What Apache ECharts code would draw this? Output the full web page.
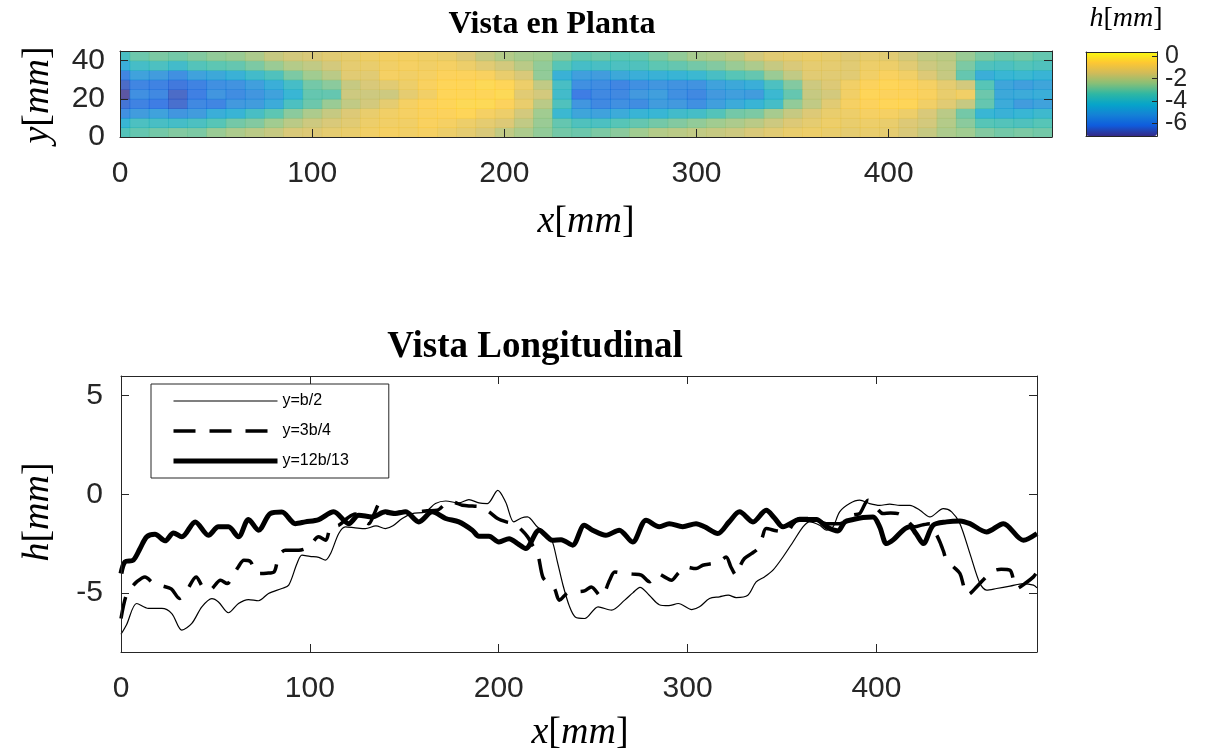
<!DOCTYPE html>
<html>
<head>
<meta charset="utf-8">
<title>Vista en Planta / Vista Longitudinal</title>
<script src="https://cdn.jsdelivr.net/npm/echarts@6/dist/echarts.min.js"></script>
<style>
  html, body { margin: 0; padding: 0; background: #fff; }
  #chart { width: 1205px; height: 751px; }
</style>
</head>
<body>
<div id="chart"></div>
<script>
// ---- plan view (top): h[mm] on a 10 mm x 5 mm grid ----
const planX = [0, 10, 20, 30, 40, 50, 60, 70, 80, 90, 100, 110, 120, 130, 140, 150, 160, 170, 180, 190,
  200, 210, 220, 230, 240, 250, 260, 270, 280, 290, 300, 310, 320, 330, 340, 350, 360, 370, 380, 390,
  400, 410, 420, 430, 440, 450, 460, 470, 480]
const planY = [2.5, 7.5, 12.5, 17.5, 22.5, 27.5, 32.5, 37.5, 42.5]

const planH02 = [-3.5,-3.2,-3.0,-2.8,-2.9,-2.5,-2.2,-2.0,-1.8,-1.5,-1.4,-1.2,-1.1,-0.9,-0.8,-0.9,-0.8,-1.0,-1.2,-1.5,-1.9,-2.2,-2.6,-3.0,-3.1,-2.9,-2.7,-2.4,-2.1,-2.0,-1.9,-1.8,-1.7,-1.5,-1.3,-1.1,-1.0,-1.1,-1.2,-1.1,-1.2,-1.5,-1.8,-2.2,-2.4,-2.8,-3.0,-2.9,-3.0]
const planH07 = [-4.3,-3.7,-3.8,-3.9,-3.7,-3.4,-3.0,-2.8,-2.4,-2.0,-1.7,-1.5,-1.3,-1.0,-0.9,-0.9,-0.7,-0.8,-1.0,-1.2,-1.4,-1.9,-2.5,-3.2,-3.6,-3.7,-3.4,-3.2,-3.0,-2.8,-2.6,-2.4,-2.2,-2.0,-1.7,-1.4,-1.2,-1.0,-1.1,-1.0,-1.1,-1.4,-1.6,-2.1,-2.7,-3.4,-3.5,-3.6,-3.4]
const planH12 = [-5.6,-5.2,-5.0,-5.4,-5.2,-4.6,-4.4,-3.8,-3.3,-2.7,-2.2,-1.8,-1.4,-1.1,-0.9,-0.8,-0.7,-0.6,-0.5,-0.8,-1.0,-1.6,-2.4,-4.2,-4.9,-5.0,-4.7,-4.4,-4.3,-4.0,-3.9,-3.5,-3.0,-2.9,-2.3,-1.8,-1.4,-1.1,-1.0,-0.8,-0.8,-1.0,-1.5,-2.0,-3.0,-4.3,-4.5,-4.3,-4.1]
const planH17 = [-6.4,-6.0,-6.2,-6.5,-5.8,-5.9,-5.3,-5.2,-4.7,-3.7,-3.1,-2.5,-1.9,-1.6,-1.2,-0.8,-0.6,-0.5,-0.4,-0.4,-0.6,-1.1,-2.0,-3.6,-5.4,-5.8,-5.6,-5.7,-5.2,-5.3,-5.6,-5.1,-4.7,-4.4,-3.9,-2.6,-1.9,-1.3,-0.8,-0.6,-0.5,-0.5,-0.9,-1.3,-1.8,-3.2,-4.7,-5.2,-5.0]
const planH22 = [-7.1,-5.6,-5.8,-6.6,-6.1,-5.4,-5.7,-5.4,-5.0,-4.3,-3.2,-3.2,-1.7,-1.7,-1.7,-1.2,-0.9,-0.5,-0.5,-0.5,-0.4,-1.3,-1.6,-4.0,-6.2,-5.8,-5.8,-5.3,-5.1,-5.6,-5.8,-5.3,-5.1,-5.2,-4.2,-3.2,-1.8,-1.6,-0.9,-0.5,-0.6,-0.6,-0.7,-1.1,-0.9,-3.1,-4.8,-4.7,-4.6]
const planH27 = [-6.6,-5.9,-6.0,-6.3,-6.0,-5.6,-5.5,-5.1,-4.6,-3.9,-3.0,-2.7,-1.8,-1.5,-1.3,-1.0,-0.7,-0.5,-0.5,-0.4,-0.5,-1.0,-1.9,-3.8,-5.6,-5.7,-5.9,-5.6,-5.4,-5.5,-5.5,-5.0,-4.8,-4.6,-3.7,-2.8,-1.7,-1.4,-0.9,-0.6,-0.5,-0.6,-0.8,-1.2,-1.6,-3.4,-4.9,-5.1,-4.9]
const planH32 = [-5.9,-5.0,-5.2,-5.6,-5.0,-4.8,-4.5,-4.0,-3.6,-2.9,-2.4,-2.0,-1.3,-1.3,-0.8,-0.9,-0.8,-0.6,-0.6,-0.7,-1.1,-1.5,-2.6,-4.5,-5.1,-5.2,-4.8,-4.6,-4.5,-4.4,-4.2,-3.8,-3.4,-3.2,-2.5,-1.9,-1.3,-1.3,-1.3,-0.9,-0.7,-0.9,-1.4,-1.8,-3.2,-4.6,-4.3,-4.2,-4.4]
const planH37 = [-4.6,-3.9,-3.7,-4.0,-3.5,-3.3,-3.2,-2.9,-2.5,-2.1,-1.9,-1.6,-1.2,-1.1,-0.9,-0.8,-0.9,-0.8,-1.0,-1.3,-1.6,-2.0,-2.6,-3.4,-3.9,-3.8,-3.7,-3.6,-3.3,-3.2,-3.0,-2.8,-2.5,-2.2,-1.8,-1.5,-1.2,-1.2,-1.3,-1.0,-1.0,-1.3,-1.7,-1.9,-2.9,-3.6,-3.7,-3.5,-3.6]
const planH42 = [-3.8,-3.1,-2.9,-3.0,-2.8,-2.6,-2.5,-2.2,-1.8,-1.6,-1.5,-1.3,-1.2,-1.0,-0.9,-0.9,-1.0,-1.1,-1.4,-1.8,-2.1,-2.3,-2.4,-2.8,-3.2,-3.1,-3.3,-3.2,-2.9,-2.6,-2.3,-2.2,-2.0,-1.6,-1.3,-1.2,-1.1,-1.2,-1.4,-1.2,-1.3,-1.6,-1.9,-2.0,-2.5,-2.9,-3.1,-3.0,-3.2]
const planRows = [planH02, planH07, planH12, planH17, planH22, planH27, planH32, planH37, planH42]

// ---- longitudinal profiles (bottom) ----
const b2X = [0,3,8.3,14.5,21.6,26.9,32.2,37.5,42.8,48.1,51.6,56.9,62.2,67.5,72.8,78.1,85.2,88.8,93.2,95.8,100,104.7,108.2,111,115.3,118.8,124,129.4,135,140,144,148.9,154.2,161.2,166.5,171.9,178.9,184.2,189.5,194,199.5,203.7,208,212,215.2,220.5,224,228,231,234,237.5,240.5,245.5,252.6,259.7,266.7,271,274.8,279.7,285,290,295.1,302.2,306.3,311.6,316.9,321.5,325.7,331.9,336.3,340.7,345.2,350.5,355.8,361.1,364.6,369.9,373.5,377,380.5,385.8,391.1,396.4,401.7,407,412.4,417.7,423,428.3,435.4,439.8,444.2,449.5,454.8,458.3,463.6,470.7,477.8,483.1,485]
const b2H = [-7.1,-6.6,-5.54,-5.79,-5.79,-6.05,-6.89,-6.55,-5.71,-5.29,-5.46,-6.01,-5.54,-5.34,-5.40,-5.03,-4.78,-4.61,-3.51,-3.09,-3.15,-3.2,-3.34,-3.0,-1.99,-1.65,-1.7,-1.74,-1.6,-1.74,-1.6,-1.23,-0.98,-0.89,-0.47,-0.34,-0.44,-0.27,-0.44,-0.47,0.2,-0.4,-1.40,-1.2,-1.15,-1.66,-1.9,-2.3,-3.4,-4.6,-5.7,-6.22,-6.3,-5.71,-5.88,-5.37,-5.0,-4.72,-5.12,-5.6,-5.65,-5.54,-5.85,-5.71,-5.29,-5.20,-5.12,-5.24,-5.12,-4.44,-4.19,-3.85,-3.18,-2.42,-1.65,-1.40,-1.57,-1.82,-1.65,-0.89,-0.47,-0.30,-0.47,-0.56,-0.5,-0.56,-0.56,-0.81,-1.15,-0.73,-0.89,-1.49,-3.01,-4.53,-4.86,-4.78,-4.66,-4.53,-4.61,-4.75]

const b34X = [0,2.5,5,8.3,12.7,17.1,22,26.6,31,34.5,39.8,43.3,46.8,52.7,56.3,58.9,62,65.1,68.4,72.1,77,81,83.6,87,94.2,99.4,104.7,108.4,111,115.3,120,124,128,131.2,134,137,141.8,149,156,162,167.5,171.9,175.4,180.7,186,190.5,195,199.4,204,208.2,212,215.3,218,220.6,223.3,226,229.5,232.1,236.5,241,245.4,249,254.3,258.7,261.4,266.7,271,275.5,279.9,284.3,288,291.4,295,298.5,304.5,308,313.3,317,320.4,323,325.7,328,330.1,334,337.2,339.5,341.6,347,352.2,356,359.3,366.4,373.5,380.5,387.6,391.1,395.6,400,403.5,407.5,411.5,416,420.3,424.5,428.3,431,433.6,435.5,437.1,441,444.2,446,447.7,450,453,457,461,466,470.7,474.3,479,483.1,485]
const b34H = [-6.3,-5.2,-4.8,-4.44,-4.19,-4.5,-4.65,-4.8,-5.28,-4.94,-4.19,-4.7,-4.87,-4.36,-4.53,-4.19,-3.7,-3.35,-3.4,-4.02,-4.0,-3.94,-3.1,-2.84,-2.84,-2.67,-2.16,-2.33,-1.66,-1.57,-1.2,-1.0,-1.3,-1.49,-1.0,-0.47,-0.98,-0.89,-0.89,-0.84,-0.81,-0.47,-0.39,-0.56,-0.6,-0.64,-0.9,-1.23,-1.4,-1.49,-1.8,-2.16,-2.6,-3.0,-4.19,-4.5,-4.78,-5.37,-5.0,-4.95,-4.9,-4.7,-5.2,-4.36,-3.94,-4.02,-4.05,-4.1,-4.44,-4.02,-4.2,-4.36,-4.0,-3.68,-3.77,-3.6,-3.51,-3.4,-3.18,-3.7,-4.11,-3.6,-3.26,-3.0,-2.75,-2.2,-1.74,-1.85,-1.91,-1.5,-1.23,-1.23,-1.49,-1.49,-1.06,-0.98,-0.3,-0.7,-0.98,-0.95,-0.98,-1.3,-1.65,-1.55,-1.49,-1.9,-2.42,-2.9,-3.34,-3.7,-4.02,-4.6,-5.12,-5.0,-4.7,-4.3,-3.93,-3.8,-3.85,-4.78,-4.5,-4.19,-3.95]

const b1213X = [0,2.1,6.5,10.1,13.6,18,23.3,27.8,32.2,39.3,46.3,51.6,56.9,62.2,67.5,72.8,79,85.2,92.3,97.6,104.7,112.6,120.6,125.9,133,140,145.3,150.6,157.7,164.8,171.9,178.9,186,189.5,194.8,200.1,205.5,210,214.3,221.4,228.5,233,239.1,245.3,249.7,256.7,263.8,270.9,278,285,290.3,297.4,304.5,309,316,322,327.5,334.6,341.6,346,350.5,359.3,368.2,373.5,379.6,383.2,387.6,392.9,398.2,401.7,405.3,409,414.1,417.7,421,424.8,430,437.1,444.2,449.5,458.3,467.2,477.8,485]
const b1213H = [-4.02,-3.43,-3.34,-2.75,-2.16,-2.03,-2.36,-1.96,-2.16,-1.40,-2.08,-1.65,-1.65,-2.16,-1.28,-1.82,-0.98,-0.9,-1.49,-1.40,-1.28,-0.89,-1.49,-1.06,-1.15,-0.89,-0.98,-0.89,-1.40,-0.89,-1.23,-1.40,-1.82,-2.13,-2.13,-2.42,-2.25,-2.5,-2.75,-1.82,-2.33,-2.3,-2.58,-1.57,-1.82,-2.08,-1.82,-2.42,-1.32,-1.65,-1.49,-1.65,-1.49,-1.65,-1.99,-1.4,-0.89,-1.40,-0.81,-1.2,-1.65,-1.28,-1.28,-1.65,-1.86,-1.40,-1.28,-1.18,-1.15,-1.65,-2.5,-2.3,-1.82,-1.65,-2.0,-2.5,-1.57,-1.40,-1.35,-1.49,-1.91,-1.49,-2.33,-1.99]

// ---- ticks ----
const xTicks = [0, 100, 200, 300, 400]
const planYTicks = [0, 20, 40]
const hTicks = [-5, 0, 5]
// colorbar ticks, split in two sets so the tightly packed labels are all kept
const cbarTicksA = [0, -4]
const cbarTicksB = [-2, -6]

// old MATLAB parula
const parula = ['#352a87', '#0f5cdd', '#1481d6', '#06a4ca', '#2eb7a4', '#87bf77', '#d1bb59', '#fec832', '#f9fb0e']
const axisColor = '#262626'

const planData = []
planRows.forEach((row, j) => {
  row.forEach((h, i) => planData.push([planX[i], planY[j], h]))
})

const zip = (xs, ys) => xs.map((x, i) => [x, ys[i]])

// one side of a MATLAB style box: ticks inside, optional labels
function boxAxis(gridIndex, position, min, max, ticks, label) {
  return {
    type: 'value',
    gridIndex,
    position,
    min,
    max,
    z: 5,
    axisLine: { show: true, onZero: false, lineStyle: { color: axisColor, width: 1 } },
    axisTick: { show: !!ticks, inside: true, length: 8, customValues: ticks || [], lineStyle: { color: axisColor } },
    axisLabel: Object.assign({
      show: !!label,
      customValues: ticks || [],
      showMinLabel: true,
      showMaxLabel: true,
      hideOverlap: false,
      color: axisColor,
      fontFamily: 'Liberation Sans',
      fontSize: 30
    }, label || {}),
    splitLine: { show: false }
  }
}

const chart = echarts.init(document.getElementById('chart'))

const mathText = (txt, x, y, size, rot) => ({
  type: 'text',
  x, y,
  rotation: rot || 0,
  style: {
    text: txt,
    fontFamily: 'Liberation Serif',
    fontSize: size,
    fill: '#000',
    align: 'center',
    verticalAlign: 'middle',
    rich: { i: { fontStyle: 'italic', fontFamily: 'Liberation Serif', fontSize: size } }
  }
})

const cbarAxisA = boxAxis(2, 'right', -7.15, 0.4, cbarTicksA, { margin: 8, fontSize: 25 })
const cbarAxisB = boxAxis(2, 'right', -7.15, 0.4, cbarTicksB, { margin: 8, fontSize: 25 })
cbarAxisA.axisTick.length = 5
cbarAxisB.axisTick.length = 5

const option = {
  animation: false,
  backgroundColor: '#fff',
  grid: [
    { left: 120, top: 51, width: 932, height: 86 },
    { left: 121, top: 376, width: 916, height: 276 },
    { left: 1086, top: 52, width: 71, height: 84 }
  ],
  xAxis: [
    boxAxis(0, 'bottom', 0, 485, xTicks, { margin: 22 }),
    boxAxis(0, 'top', 0, 485, xTicks, null),
    boxAxis(1, 'bottom', 0, 485, xTicks, { margin: 22 }),
    boxAxis(1, 'top', 0, 485, xTicks, null),
    boxAxis(2, 'bottom', 0, 1, null, null),
    boxAxis(2, 'top', 0, 1, null, null)
  ],
  yAxis: [
    boxAxis(0, 'left', 0, 45, planYTicks, { margin: 15 }),
    boxAxis(0, 'right', 0, 45, planYTicks, null),
    boxAxis(1, 'left', -8, 6, hTicks, { margin: 18 }),
    boxAxis(1, 'right', -8, 6, hTicks, null),
    boxAxis(2, 'left', -7.15, 0.4, null, null),
    cbarAxisA,
    cbarAxisB
  ],
  visualMap: {
    type: 'continuous',
    seriesIndex: 0,
    dimension: 2,
    min: -7.15,
    max: 0.4,
    calculable: false,
    left: 1086,
    top: 52,
    itemWidth: 71,
    itemHeight: 84,
    padding: 0,
    text: null,
    inRange: { color: parula }
  },
  legend: {
    data: ['y=b/2', 'y=3b/4', 'y=12b/13'],
    orient: 'vertical',
    left: 151,
    top: 384,
    padding: [9, 40, 9, 20],
    itemWidth: 104,
    itemHeight: 14,
    itemGap: 14,
    backgroundColor: '#fff',
    borderColor: axisColor,
    borderWidth: 1,
    lineStyle: { width: 'inherit' },
    itemStyle: { opacity: 0, borderWidth: 0 },
    textStyle: { fontFamily: 'Liberation Sans', fontSize: 16, color: '#000' }
  },
  series: [
    {
      type: 'custom',
      xAxisIndex: 0,
      yAxisIndex: 0,
      clip: true,
      data: planData,
      encode: { x: 0, y: 1 },
      renderItem: (params, api) => {
        const x = api.value(0)
        const y = api.value(1)
        const p0 = api.coord([x - 5, y + 2.5])
        const p1 = api.coord([x + 5, y - 2.5])
        return {
          type: 'rect',
          shape: { x: p0[0], y: p0[1], width: p1[0] - p0[0] + 0.6, height: p1[1] - p0[1] + 0.6 },
          style: { fill: api.visual('color'), opacity: 0.8 }
        }
      }
    },
    {
      name: 'y=b/2',
      type: 'line',
      xAxisIndex: 2,
      yAxisIndex: 2,
      data: zip(b2X, b2H),
      symbol: 'none',
      smooth: 0.3,
      lineStyle: { color: '#000', width: 1.2 },
      itemStyle: { color: '#000' }
    },
    {
      name: 'y=3b/4',
      type: 'line',
      xAxisIndex: 2,
      yAxisIndex: 2,
      data: zip(b34X, b34H),
      symbol: 'none',
      smooth: 0.3,
      lineStyle: { color: '#000', width: 3.5, type: [22, 14] },
      itemStyle: { color: '#000' }
    },
    {
      name: 'y=12b/13',
      type: 'line',
      xAxisIndex: 2,
      yAxisIndex: 2,
      data: zip(b1213X, b1213H),
      symbol: 'none',
      smooth: 0.3,
      lineStyle: { color: '#000', width: 5 },
      itemStyle: { color: '#000' }
    }
  ],
  graphic: [
    {
      type: 'text', x: 552, y: 25,
      style: { text: 'Vista en Planta', font: 'bold 32px "Liberation Serif"', fill: '#000', align: 'center', verticalAlign: 'middle' }
    },
    {
      type: 'text', x: 535, y: 347,
      style: { text: 'Vista Longitudinal', font: 'bold 37px "Liberation Serif"', fill: '#000', align: 'center', verticalAlign: 'middle' }
    },
    mathText('{i|h}[{i|mm}]', 1126, 19, 28),
    mathText('{i|y}[{i|mm}]', 38, 95, 38, Math.PI / 2),
    mathText('{i|x}[{i|mm}]', 586, 222, 38),
    mathText('{i|h}[{i|mm}]', 38, 512, 38, Math.PI / 2),
    mathText('{i|x}[{i|mm}]', 580, 733, 38)
  ]
}

chart.setOption(option)
window.addEventListener('resize', () => chart.resize())
</script>
</body>
</html>
